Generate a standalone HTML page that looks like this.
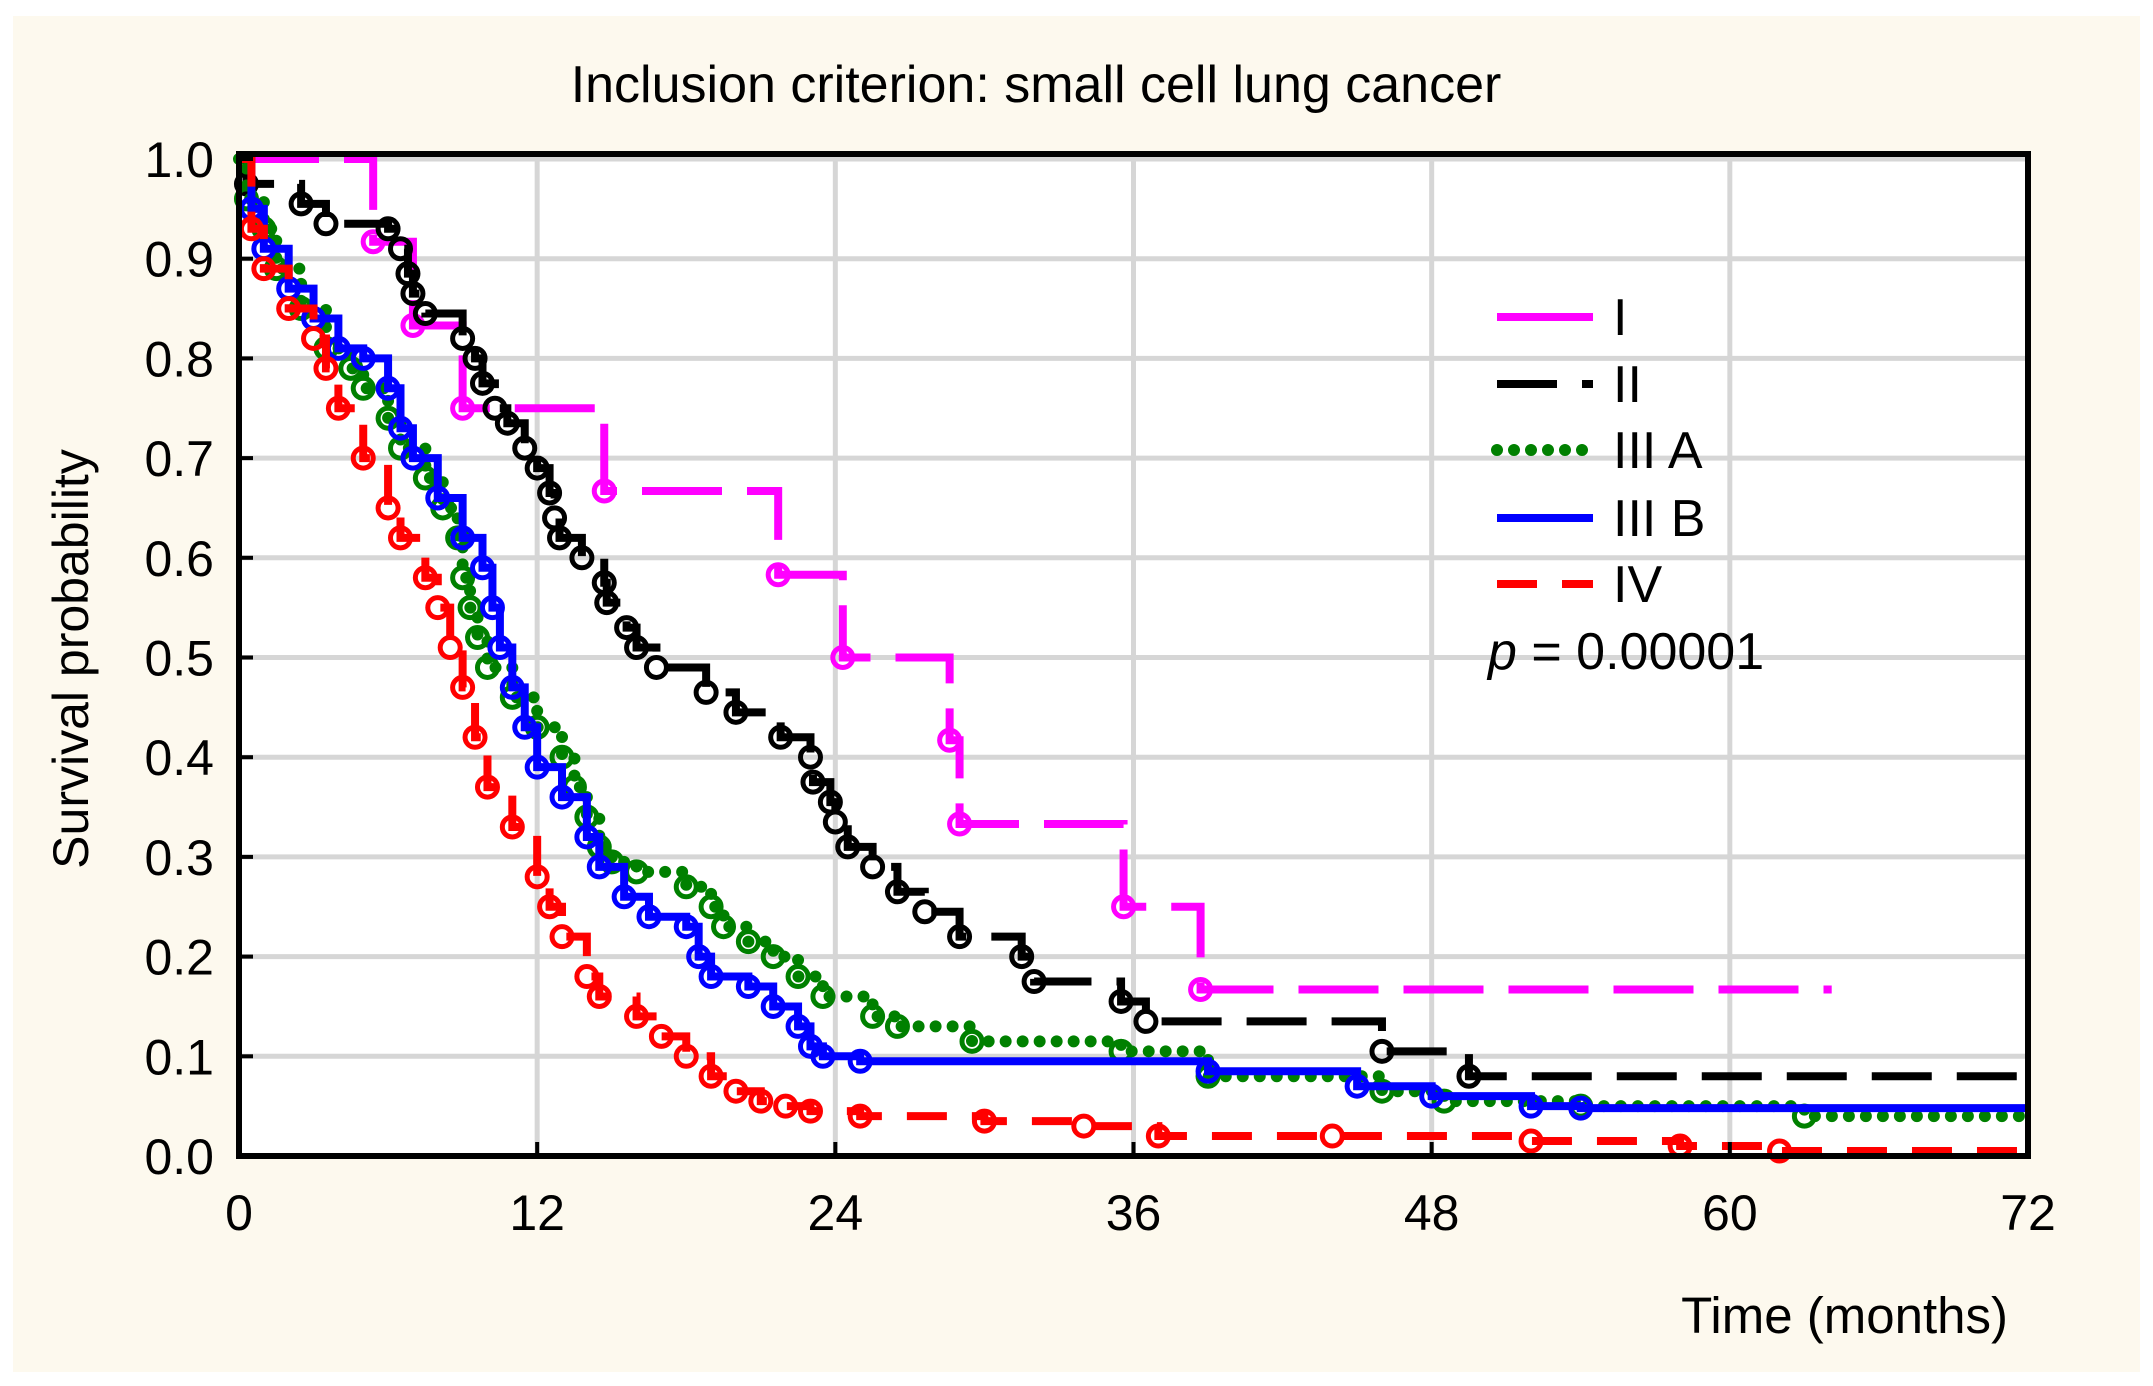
<!DOCTYPE html>
<html><head><meta charset="utf-8"><style>
html,body{margin:0;padding:0;background:#fff;}
svg{display:block;font-family:"Liberation Sans",Arial,sans-serif;}
</style></head><body>
<svg id="chart" width="2153" height="1386" viewBox="0 0 2153 1386" xmlns="http://www.w3.org/2000/svg">
<rect x="0" y="0" width="2153" height="1386" fill="#ffffff"/>
<rect x="13" y="16" width="2127" height="1356" fill="#fdf9ee"/>
<rect x="239" y="154" width="1789" height="1002" fill="#ffffff"/>
<g id="grid"></g>
<g id="series"></g>
<rect x="239" y="154" width="1789" height="1002" fill="none" stroke="#000" stroke-width="6"/>
<g id="ticks"></g>
<text x="1036" y="102" font-size="52" text-anchor="middle">Inclusion criterion:  small cell lung cancer</text>
<text transform="translate(88,659) rotate(-90)" font-size="50" text-anchor="middle">Survival probability</text>
<text x="2008" y="1333" font-size="51" text-anchor="end">Time (months)</text>
<g id="legend"></g>
</svg>
<script>
const xTicks=[0,12,24,36,48,60,72];
const yTicks=[0,0.1,0.2,0.3,0.4,0.5,0.6,0.7,0.8,0.9,1.0];
const seriesNames=["I","II","III A","III B","IV"];
const seriesColors=["#ff00ff","#000000","#008000","#0000ff","#ff0000"];
const seriesDash=["80,25","60,25","0,17","","40,25"];
const tI=[0,5.4,7,9,14.7,21.7,24.3,28.6,29,35.6,38.7,64.1];
const sI=[1,0.917,0.833,0.75,0.667,0.583,0.5,0.417,0.333,0.25,0.167,0.167];
const tII=[0,0.3,2.5,3.5,6,6.5,6.8,7,7.5,9,9.5,9.8,10.3,10.8,11.5,12,12.5,12.7,12.9,13.8,14.7,14.8,15.6,16,16.8,18.8,20,21.8,23,23.1,23.8,24,24.5,25.5,26.5,27.6,29,31.5,32,35.5,36.5,46,49.5,72];
const sII=[1,0.975,0.955,0.935,0.93,0.91,0.885,0.865,0.845,0.82,0.8,0.775,0.75,0.735,0.71,0.69,0.665,0.64,0.62,0.6,0.575,0.555,0.53,0.51,0.49,0.465,0.445,0.42,0.4,0.375,0.355,0.335,0.31,0.29,0.265,0.245,0.22,0.2,0.175,0.155,0.135,0.105,0.08,0.08];
const tIIIA=[0,0.3,1,1.5,2.5,3.5,4.5,5,6,6.5,7.5,8.2,8.8,9,9.3,9.6,10,11,12,13,13.5,14,14.5,15,16,18,19,19.5,20.5,21.5,22.5,23.5,25.5,26.5,29.5,35.5,39,46,48.5,54,63,72];
const sIIIA=[1,0.96,0.93,0.89,0.85,0.81,0.79,0.77,0.74,0.71,0.68,0.65,0.62,0.58,0.55,0.52,0.49,0.46,0.43,0.4,0.37,0.34,0.31,0.295,0.285,0.27,0.25,0.23,0.215,0.2,0.18,0.16,0.14,0.13,0.115,0.105,0.08,0.065,0.055,0.05,0.04,0.04];
const tIIIB=[0,0.5,1,2,3,4,5,6,6.5,7,8,9,9.8,10.2,10.5,11,11.5,12,13,14,14.5,15.5,16.5,18,18.5,19,20.5,21.5,22.5,23,23.5,25,39,45,48,52,54,72];
const sIIIB=[1,0.95,0.91,0.87,0.84,0.81,0.8,0.77,0.73,0.7,0.66,0.62,0.59,0.55,0.51,0.47,0.43,0.39,0.36,0.32,0.29,0.26,0.24,0.23,0.2,0.18,0.17,0.15,0.13,0.11,0.1,0.095,0.085,0.07,0.06,0.05,0.048,0.048];
const tIV=[0,0.5,1,2,3,3.5,4,5,6,6.5,7.5,8,8.5,9,9.5,10,11,12,12.5,13,14,14.5,16,17,18,19,20,21,22,23,25,30,34,37,44,52,58,62,72];
const sIV=[1,0.93,0.89,0.85,0.82,0.79,0.75,0.7,0.65,0.62,0.58,0.55,0.51,0.47,0.42,0.37,0.33,0.28,0.25,0.22,0.18,0.16,0.14,0.12,0.1,0.08,0.065,0.055,0.05,0.045,0.04,0.035,0.03,0.02,0.02,0.015,0.01,0.005,0.005];
const allT=[tI,tII,tIIIA,tIIIB,tIV];
const allS=[sI,sII,sIIIA,sIIIB,sIV];
const NS="http://www.w3.org/2000/svg";
function X(t){return 239+t*(2028-239)/72;}
function Y(v){return 1156-v*997;}
function mk(tag,attrs,parent){const e=document.createElementNS(NS,tag);for(const k in attrs)e.setAttribute(k,attrs[k]);parent.appendChild(e);return e;}
const grid=document.getElementById('grid'),ticks=document.getElementById('ticks'),ser=document.getElementById('series'),leg=document.getElementById('legend');
xTicks.forEach(t=>{
  const g=mk('line',{x1:X(t),x2:X(t),y1:154,y2:1156,stroke:'#d6d6d6','stroke-width':5},grid);
  
  
  const tk=mk('line',{x1:X(t),x2:X(t),y1:1156,y2:1142,stroke:'#000','stroke-width':4},ticks);
  
  
  const l=mk('text',{x:X(t),y:1230,'font-size':50,'text-anchor':'middle'},ticks);
  l.textContent=t;
  
  
});
yTicks.forEach(v=>{
  const g=mk('line',{x1:239,x2:2028,y1:Y(v),y2:Y(v),stroke:'#d6d6d6','stroke-width':5},grid);
  
  
  const tk=mk('line',{x1:239,x2:253,y1:Y(v),y2:Y(v),stroke:'#000','stroke-width':4},ticks);
  
  
  const l=mk('text',{x:214,y:Y(v)+18,'font-size':50,'text-anchor':'end'},ticks);
  l.textContent=v.toFixed(1);
  
  
});
allT.forEach((ts,i)=>{
  const ss=allS[i];
  let d='M'+X(ts[0])+','+Y(ss[0]);
  for(let j=1;j<ts.length;j++){d+=' H'+X(ts[j])+' V'+Y(ss[j]);}
  const a={d:d,fill:'none',stroke:seriesColors[i],'stroke-width':i==2?12:8,'stroke-linecap':i==2?'round':'butt'};
  if(seriesDash[i])a['stroke-dasharray']=seriesDash[i];
  const p=mk('path',a,ser);
  
  
  for(let j=1;j<ts.length-1;j++){
    const c=mk('circle',{cx:X(ts[j]),cy:Y(ss[j]),r:10,fill:'none',stroke:seriesColors[i],'stroke-width':5},ser);
    
    
  }
});
const legY=[317,384,450,518,584];
seriesNames.forEach((n,i)=>{
  const a={x1:1497,x2:1593,y1:legY[i],y2:legY[i],stroke:seriesColors[i],'stroke-width':i==2?12:8,'stroke-linecap':i==2?'round':'butt'};
  if(seriesDash[i] && i!=0)a['stroke-dasharray']=seriesDash[i];
  const l=mk('line',a,leg);
  
  
  const t=mk('text',{x:1613,y:legY[i]+18,'font-size':52},leg);
  t.textContent=n;
  
  
});
const pt=mk('text',{x:1488,y:669,'font-size':52},leg);
pt.innerHTML='<tspan font-style="italic">p</tspan> = 0.00001';


</script>
</body></html>
